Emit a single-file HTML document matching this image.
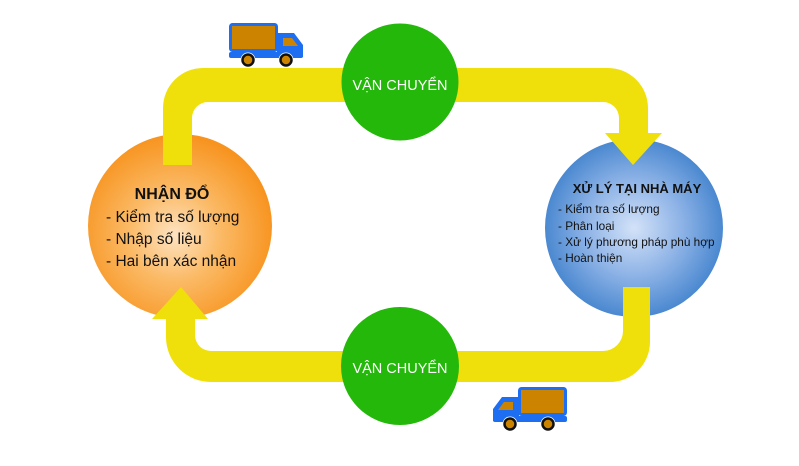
<!DOCTYPE html>
<html>
<head>
<meta charset="utf-8">
<style>
  html,body{margin:0;padding:0;background:#fff;}
  svg{display:block;}
  text{font-family:"Liberation Sans","Noto Sans CJK SC",sans-serif;}
</style>
</head>
<body>
<svg width="799" height="466" viewBox="0 0 799 466" xmlns="http://www.w3.org/2000/svg">
  <defs>
    <radialGradient id="og" cx="0.47" cy="0.55" r="0.55">
      <stop offset="0" stop-color="#FDE3C2"/>
      <stop offset="0.45" stop-color="#FBBA66"/>
      <stop offset="1" stop-color="#F7931E"/>
    </radialGradient>
    <radialGradient id="bg" cx="0.5" cy="0.5" r="0.55">
      <stop offset="0" stop-color="#D3E2F8"/>
      <stop offset="0.5" stop-color="#8CB2E6"/>
      <stop offset="1" stop-color="#3C7FCB"/>
    </radialGradient>
    <g id="truck">
      <rect x="1.5" y="1.5" width="46" height="26" rx="2" fill="#CC8400" stroke="#1E6EF2" stroke-width="3"/>
      <path d="M48 10 L65 10 L74 22 L74 34 L48 34 Z" fill="#1E6EF2"/>
      <path d="M54 15 L63 15 L69 23 L54 23 Z" fill="#CC8400"/>
      <rect x="0" y="29" width="74" height="6" rx="2" fill="#1E6EF2"/>
      <circle cx="19" cy="37" r="7.5" fill="#fff"/>
      <circle cx="57" cy="37" r="7.5" fill="#fff"/>
      <circle cx="19" cy="37" r="5.5" fill="#CC8400" stroke="#111" stroke-width="2.5"/>
      <circle cx="57" cy="37" r="5.5" fill="#CC8400" stroke="#111" stroke-width="2.5"/>
    </g>
  </defs>

  <!-- main circles -->
  <circle cx="180" cy="226" r="92" fill="url(#og)"/>
  <circle cx="634" cy="228" r="89" fill="url(#bg)"/>

  <!-- top yellow band with arrow -->
  <path fill="#EFE00C" d="M163 165 L163 108 A40 40 0 0 1 203 68 L608 68 A40 40 0 0 1 648 108 L648 133 L662 133 L633 165 L605 133 L619 133 L619 118 A16 16 0 0 0 603 102 L208 102 A16 16 0 0 0 192 118 L192 165 Z"/>

  <!-- bottom yellow band with arrow -->
  <path fill="#EFE00C" d="M623 287 L650 287 L650 342 A40 40 0 0 1 610 382 L211 382 A45 45 0 0 1 166 337 L166 319 L152 319 L181 287 L208 319 L195 319 L195 335 A16 16 0 0 0 211 351 L603 351 A20 20 0 0 0 623 331 Z"/>

  <!-- green circles -->
  <circle cx="400" cy="82" r="58.5" fill="#24B80B"/>
  <circle cx="400" cy="366" r="59" fill="#24B80B"/>
  <text x="400" y="90" text-anchor="middle" font-size="14.5" fill="#fff">VẬN CHUYỂN</text>
  <text x="400" y="373" text-anchor="middle" font-size="14.5" fill="#fff">VẬN CHUYỂN</text>

  <!-- orange circle text -->
  <text x="172" y="199" text-anchor="middle" font-size="16" font-weight="bold" fill="#111">NHẬN ĐỔ</text>
  <text x="106" y="222" font-size="15.5" fill="#111">- Kiểm tra số lượng</text>
  <text x="106" y="244" font-size="15.5" fill="#111">- Nhập số liệu</text>
  <text x="106" y="266" font-size="15.5" fill="#111">- Hai bên xác nhận</text>

  <!-- blue circle text -->
  <text x="637" y="193" text-anchor="middle" font-size="13" font-weight="bold" fill="#111">XỬ LÝ TẠI NHÀ MÁY</text>
  <text x="558" y="213" font-size="11.8" fill="#111">- Kiểm tra số lượng</text>
  <text x="558" y="230" font-size="11.8" fill="#111">- Phân loại</text>
  <text x="558" y="246" font-size="11.8" fill="#111">- Xử lý phương pháp phù hợp</text>
  <text x="558" y="262" font-size="11.8" fill="#111">- Hoàn thiện</text>

  <!-- trucks -->
  <use href="#truck" transform="translate(229,23)"/>
  <use href="#truck" transform="translate(567,387) scale(-1,1)"/>
</svg>
</body>
</html>
